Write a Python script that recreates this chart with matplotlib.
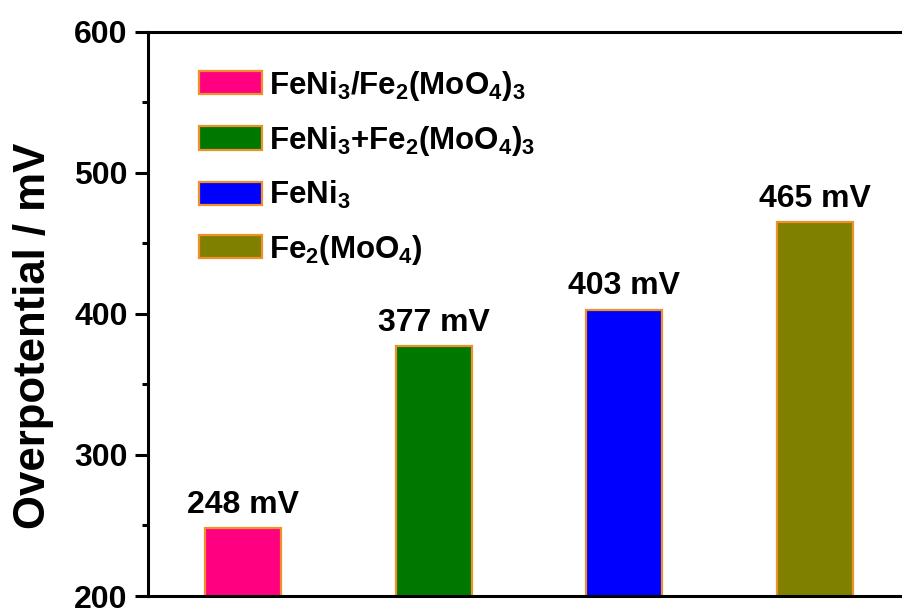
import matplotlib
matplotlib.use("Agg")
import matplotlib.pyplot as plt
from matplotlib.ticker import MultipleLocator

# Overpotential of each catalyst
samples = [r"FeNi$_3$/Fe$_2$(MoO$_4$)$_3$",
           r"FeNi$_3$+Fe$_2$(MoO$_4$)$_3$",
           r"FeNi$_3$",
           r"Fe$_2$(MoO$_4$)"]
overpotential = [248, 377, 403, 465]
bar_labels = ["248 mV", "377 mV", "403 mV", "465 mV"]
colors = ["#FF0080", "#007800", "#0000FF", "#808000"]
edge_color = "#F0902A"

plt.rcParams["font.family"] = ["Liberation Sans", "DejaVu Sans"]
plt.rcParams["font.weight"] = "bold"
plt.rcParams["mathtext.fontset"] = "custom"
plt.rcParams["mathtext.rm"] = "Liberation Sans:bold"
plt.rcParams["mathtext.it"] = "Liberation Sans:bold"
plt.rcParams["mathtext.bf"] = "Liberation Sans:bold"
plt.rcParams["mathtext.default"] = "rm"

fig = plt.figure(figsize=(9.02, 6.10), dpi=100)
ax = fig.add_axes([148 / 902, 14 / 610, 762 / 902, 564 / 610])

positions = list(range(1, len(overpotential) + 1))
bars = ax.bar(positions, overpotential, width=0.4, bottom=0,
              color=colors, edgecolor=edge_color, linewidth=1.6,
              zorder=2)
for b, lab in zip(bars, samples):
    b.set_label(lab)

for x, v, txt in zip(positions, overpotential, bar_labels):
    ax.annotate(txt, (x, v), xytext=(0, 6), textcoords="offset points",
                ha="center", va="bottom", fontsize=23, fontweight="bold")

ax.set_xlim(0.5, 4.5)
ax.set_ylim(200, 600)
ax.set_xticks([])
ax.yaxis.set_major_locator(MultipleLocator(100))
ax.yaxis.set_minor_locator(MultipleLocator(50))
ax.tick_params(axis="y", which="major", direction="out", length=9.5,
               width=2.2, labelsize=23, pad=5)
ax.tick_params(axis="y", which="minor", direction="out", length=4.5,
               width=2.2)
for lab in ax.get_yticklabels():
    lab.set_fontweight("bold")

for side in ("left", "top", "bottom", "right"):
    ax.spines[side].set_linewidth(2.2)

ax.set_ylabel("Overpotential / mV", fontsize=31.5, fontweight="bold")
ax.yaxis.set_label_coords(-0.124, 0.461)

leg = ax.legend(loc="upper left", bbox_to_anchor=(0.067, 0.935),
                frameon=False, fontsize=22.5, handlelength=2.0,
                handleheight=0.76, labelspacing=0.68, handletextpad=0.25,
                borderaxespad=0, borderpad=0)

fig.savefig("out.png", dpi=100)
